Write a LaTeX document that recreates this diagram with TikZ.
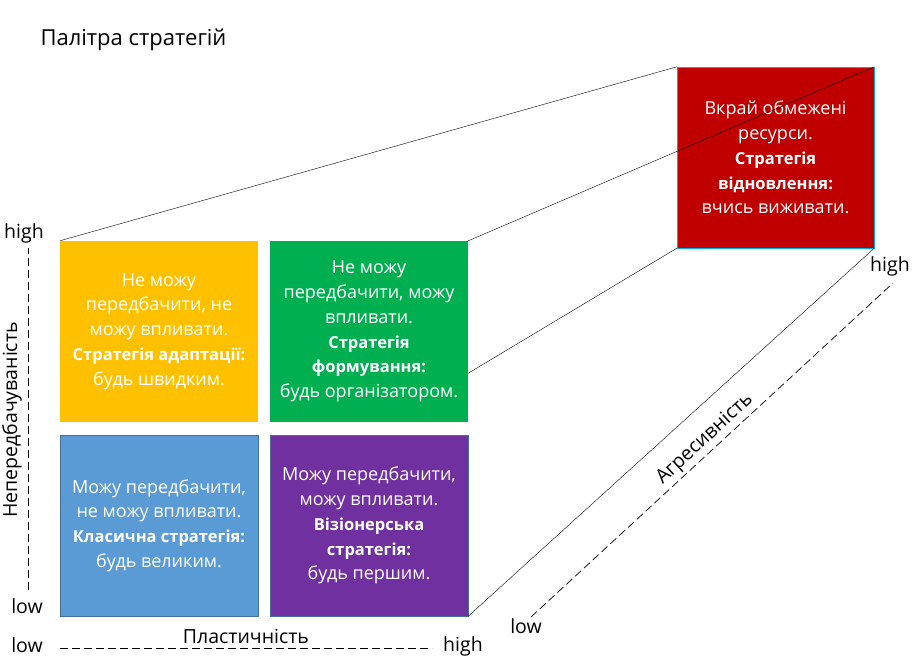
\documentclass[tikz,border=0pt]{standalone}
\usepackage{fontspec}
\setmainfont{Open Sans}
\usetikzlibrary{calc}

\definecolor{cellyellow}{HTML}{FFC000}
\definecolor{cellgreen}{HTML}{00B050}
\definecolor{cellblue}{HTML}{5B9BD5}
\definecolor{cellpurple}{HTML}{7030A0}
\definecolor{cellred}{HTML}{C00000}
\definecolor{cellrim}{HTML}{41719C}

\newcommand{\strat}[1]{{\fontsize{16.5}{24.8}\selectfont\bfseries #1}}

\begin{document}
\begin{tikzpicture}[x=1pt,y=-1pt,
    cell/.style={minimum width=198pt,minimum height=181pt,inner sep=0pt,
      text=white,align=center,font=\fontsize{18}{24.8}\selectfont},
    axislabel/.style={font=\fontsize{19.5}{23}\selectfont},
    axis/.style={dash pattern=on 8pt off 4pt,line width=0.7pt}]
        \useasboundingbox (0,0) rectangle (915,665);

        \node[anchor=west,font=\fontsize{22}{26}\selectfont] (title) at (37,40) {Палітра стратегій};

        % the four cells
        \node[cell,fill=cellyellow] (adapt) at (159,331.5)
        {Не можу\\передбачити, не\\можу впливати.\\\strat{Стратегія адаптації:}\\будь швидким.};
        \node[cell,fill=cellgreen] (shape) at (369,331.5)
        {Не можу\\передбачити, можу\\впливати.\\\strat{Стратегія}\\\strat{формування:}\\будь організатором.};
        \node[cell,fill=cellblue,draw=cellrim] (classic) at (159,525.5)
        {Можу передбачити,\\не можу впливати.\\\strat{Класична стратегія:}\\будь великим.};
        \node[cell,fill=cellpurple,draw=cellrim] (vision) at (369,525.5)
        {Можу передбачити,\\можу впливати.\\\strat{Візіонерська}\\\strat{стратегія:}\\будь першим.};
        \node[cell,fill=cellred,draw=cyan,minimum width=197pt] (renew) at (775.5,157.5)
        {Вкрай обмежені\\ресурси.\\\strat{Стратегія}\\\strat{відновлення:}\\вчись виживати.};

        % depth lines
        \coordinate (shapeside) at ($(shape.north east)!0.73!(shape.south east)$);
        \draw (adapt.north west) -- (renew.north west);
        \draw (shape.north east) -- (renew.north east);
        \draw (shapeside) -- (renew.south west);
        \draw (vision.south east) -- (renew.south east);

        % axes
        \coordinate (v0) at (28,590);
        \coordinate (v1) at (28,248);
        \coordinate (h0) at (60,648);
        \coordinate (h1) at (432,648);
        \coordinate (d0) at (531,617);
        \coordinate (d1) at (893,283);
        \draw[axis] (v0) -- (v1);
        \draw[axis] (h0) -- (h1);
        \draw[axis] (d0) -- (d1);

        \node[axislabel] (vhigh) at (24,233) {high};
        \node[axislabel] (vlow) at (27,606) {low};
        \node[axislabel,rotate=90] (vname) at (12,420) {Непередбачуваність};
        \node[axislabel] (hlow) at (27,645) {low};
        \node[axislabel] (hhigh) at (463,646) {high};
        \node[axislabel] (hname) at (246,636) {Пластичність};
        \node[axislabel] (dlow) at (526,626) {low};
        \node[axislabel] (dhigh) at (890,266) {high};
        \node[axislabel,rotate=42.7] (dname) at (705,439) {Агресивність};

      \end{tikzpicture}
\end{document}
